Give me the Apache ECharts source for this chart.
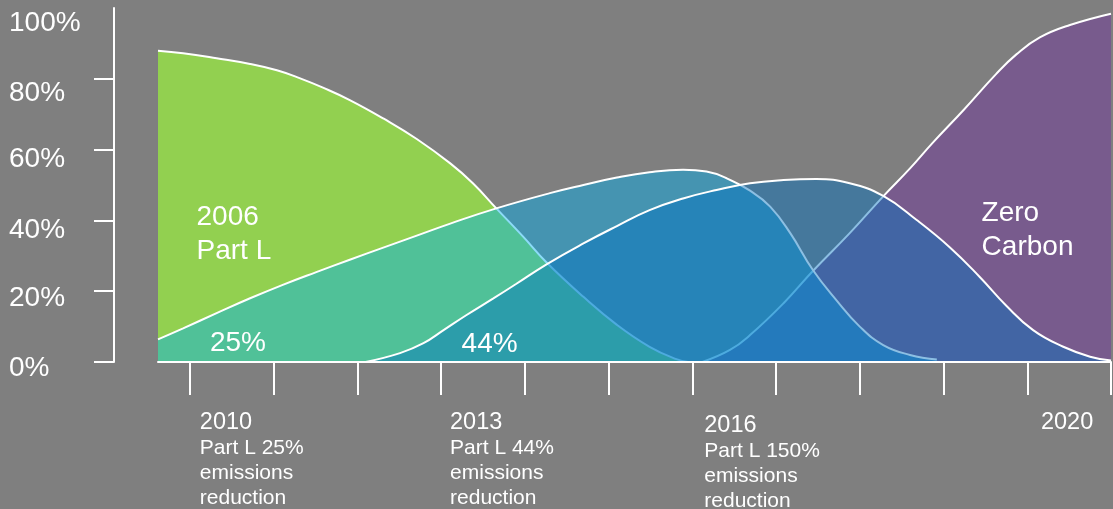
<!DOCTYPE html>
<html>
<head>
<meta charset="utf-8">
<script src="https://cdn.jsdelivr.net/npm/echarts@6/dist/echarts.min.js"></script>
<style>
html,body{margin:0;padding:0;background:#7f7f7f;}
#chart{width:1113px;height:509px;}
</style>
</head>
<body>
<div id="chart"></div>
<script>
// ---------------- data ----------------
const tickYears = [2010, 2011, 2012, 2013, 2014, 2015, 2016, 2017, 2018, 2019, 2020, 2021];
const labelYears = [2010, 2013, 2016, 2020];
const labelTitles = ['2010', '2013', '2016', '2020'];
const labelNotes = [
  ['Part L 25%', 'emissions', 'reduction'],
  ['Part L 44%', 'emissions', 'reduction'],
  ['Part L 150%', 'emissions', 'reduction'],
  []
];
const yTickValues = [0, 20, 40, 60, 80];
const yLabelValues = [0, 20, 40, 60, 80, 100];
const areaNames = ['2006\nPart L', '25%', '44%', 'Zero\nCarbon'];

const partL2006Years = [2009.62, 2009.92, 2010.32, 2010.72, 2011.04, 2011.31, 2011.59, 2011.91, 2012.31, 2012.71, 2013.11, 2013.38, 2013.66, 2013.98, 2014.26, 2014.70, 2015.10, 2015.49, 2015.81, 2015.95];
const partL2006Values = [87.9, 87.2, 85.8, 84.2, 82.4, 80.2, 77.5, 74.0, 68.8, 63.0, 56.1, 50.5, 43.4, 35.4, 28.1, 18.4, 10.5, 4.3, 0.8, 0];

const cut25Years = [2009.62, 2009.92, 2010.32, 2010.72, 2011.11, 2011.51, 2011.91, 2012.31, 2012.71, 2013.11, 2013.66, 2014.30, 2014.70, 2015.10, 2015.49, 2015.89, 2016.17, 2016.41, 2016.69, 2016.93, 2017.17, 2017.44, 2017.72, 2018.00, 2018.28, 2018.60, 2018.92];
const cut25Values = [6.4, 9.5, 13.8, 18.0, 21.8, 25.4, 28.9, 32.3, 35.7, 39.1, 43.4, 47.7, 50.0, 52.1, 53.6, 54.3, 53.8, 51.9, 48.4, 43.9, 36.4, 26.0, 17.5, 10.0, 4.8, 2.0, 0.7];

const cut44Years = [2012.10, 2012.51, 2012.79, 2013.03, 2013.30, 2013.62, 2013.90, 2014.26, 2014.70, 2015.10, 2015.49, 2015.89, 2016.29, 2016.69, 2017.09, 2017.48, 2017.88, 2018.28, 2018.68, 2019.08, 2019.43, 2019.75, 2020.07, 2020.43, 2020.75, 2021.0];
const cut44Values = [0, 2.5, 5.3, 9.0, 13.2, 17.9, 22.1, 27.6, 33.5, 38.4, 42.9, 46.2, 48.6, 50.5, 51.4, 51.7, 50.5, 46.9, 40.1, 32.3, 24.1, 15.9, 9.0, 4.3, 1.5, 0.4];

const zeroCarbonYears = [2016.12, 2016.45, 2016.69, 2017.09, 2017.44, 2017.88, 2018.28, 2018.60, 2018.87, 2019.24, 2019.63, 2019.87, 2020.15, 2020.51, 2021.0];
const zeroCarbonValues = [0, 3.4, 7.6, 16.6, 25.7, 36.4, 46.8, 54.7, 61.9, 71.2, 81.4, 86.9, 91.7, 95.2, 98.4];

// ---------------- layout / style ----------------
const FONT = "'Liberation Sans', Arial, Helvetica, sans-serif";
const X_MIN = 2009.62, X_MAX = 2021;
const GRID = {left: 158, right: 2, top: 8, bottom: 147};
const yearPerPx = (X_MAX - X_MIN) / (1113 - GRID.left - GRID.right);
const labelShiftPx = [10, 9, 12, 13.7];
const labelDropPx = [0, 0, 3, 0];
const labelPositions = labelYears.map((y, i) => y + labelShiftPx[i] * yearPerPx);
const yLabelPad = {0: 13, 20: 14, 40: 19, 60: 20, 80: 29, 100: 31};
const areaLabelAnchors = [[2010.08, 36.2], [2010.24, 5.3], [2013.245, 5.0], [2019.455, 37.1]];

const pairs = (xs, vs) => xs.map((x, i) => [x, vs[i]]);

const yRich = {};
yLabelValues.forEach(v => {
  yRich['p' + v] = {fontSize: 28, color: '#fff', fontFamily: FONT, padding: [yLabelPad[v], 0, 0, 0]};
});

function xLabelFormatter(v) {
  let best = 0;
  labelPositions.forEach((p, i) => { if (Math.abs(p - v) < Math.abs(labelPositions[best] - v)) best = i; });
  const parts = [];
  if (labelDropPx[best]) parts.push('{sp| }');
  parts.push('{yr|' + labelTitles[best] + '}');
  labelNotes[best].forEach(n => parts.push('{nt|' + n + '}'));
  return parts.join('\n');
}

function makeSeries(name, xs, vs, color, opacity, labelIdx, z) {
  return {
    name: name,
    type: 'line',
    z: z,
    data: pairs(xs, vs),
    smooth: 0.45,
    showSymbol: false,
    symbol: 'none',
    silent: true,
    lineStyle: {color: '#ffffff', width: 2},
    areaStyle: {color: color, opacity: opacity},
    emphasis: {disabled: true},
    markPoint: {
      symbol: 'circle',
      symbolSize: 0,
      silent: true,
      animation: false,
      z: 20,
      label: {
        show: true,
        position: 'right',
        distance: 0,
        color: '#ffffff',
        fontSize: 28,
        lineHeight: 34,
        fontFamily: FONT,
        formatter: areaNames[labelIdx]
      },
      data: [{coord: areaLabelAnchors[labelIdx]}]
    }
  };
}

const chart = echarts.init(document.getElementById('chart'), null, {renderer: 'canvas'});
chart.setOption({
  backgroundColor: '#7f7f7f',
  animation: false,
  grid: Object.assign({containLabel: false, outerBoundsMode: 'none'}, GRID),
  xAxis: {
    type: 'value',
    min: X_MIN,
    max: X_MAX,
    position: 'bottom',
    z: 10,
    axisLine: {show: true, onZero: false, lineStyle: {color: '#ffffff', width: 2}},
    axisTick: {show: true, customValues: tickYears, length: 33, inside: false, lineStyle: {color: '#ffffff', width: 2}},
    axisLabel: {
      show: true,
      customValues: labelPositions,
      align: 'left',
      verticalAlign: 'top',
      margin: 47,
      color: '#ffffff',
      fontFamily: FONT,
      formatter: xLabelFormatter,
      rich: {
        sp: {fontSize: 1, lineHeight: 3},
        yr: {fontSize: 23.5, lineHeight: 27, color: '#ffffff', fontFamily: FONT},
        nt: {fontSize: 21, lineHeight: 25, color: '#ffffff', fontFamily: FONT}
      }
    },
    splitLine: {show: false}
  },
  yAxis: {
    type: 'value',
    min: 0,
    max: 100,
    position: 'left',
    offset: 44,
    axisLine: {show: true, lineStyle: {color: '#ffffff', width: 2}},
    axisTick: {show: true, customValues: yTickValues, length: 20, inside: false, lineStyle: {color: '#ffffff', width: 2}},
    axisLabel: {
      show: true,
      customValues: yLabelValues,
      align: 'left',
      margin: 105,
      color: '#ffffff',
      fontSize: 28,
      fontFamily: FONT,
      formatter: v => '{p' + v + '|' + v + '%}',
      rich: yRich
    },
    splitLine: {show: false}
  },
  series: [
    makeSeries('2006 Part L', partL2006Years, partL2006Values, '#92d050', 1, 0, 1),
    makeSeries('Zero Carbon', zeroCarbonYears, zeroCarbonValues, '#7030a0', 0.45, 3, 2),
    makeSeries('Part L 25%', cut25Years, cut25Values, '#00b0f0', 0.45, 1, 3),
    makeSeries('Part L 44%', cut44Years, cut44Values, '#0070c0', 0.45, 2, 4)
  ]
});
</script>
</body>
</html>
